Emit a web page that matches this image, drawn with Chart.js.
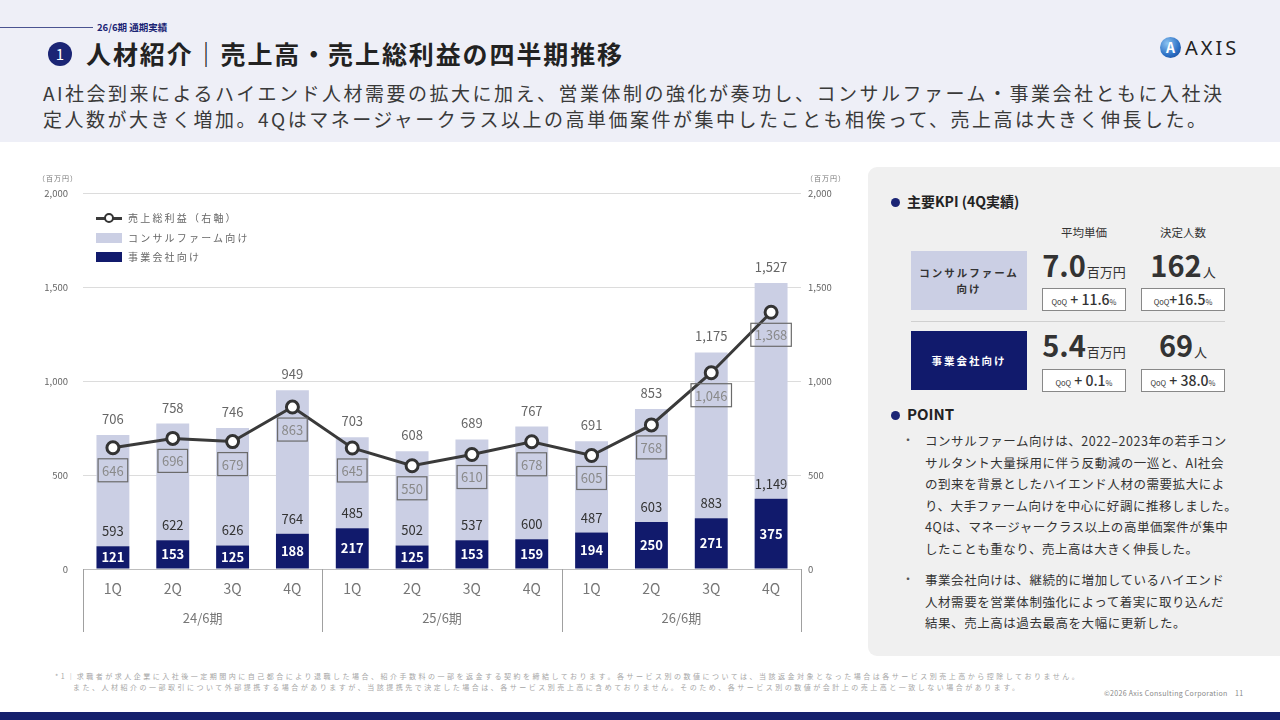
<!DOCTYPE html>
<html lang="ja">
<head>
<meta charset="utf-8">
<script src="https://cdn.jsdelivr.net/npm/chart.js@4.4.1/dist/chart.umd.min.js"></script>
<style>
  * { box-sizing: border-box; }
  body { margin:0; width:1280px; height:720px; overflow:hidden; background:#fff;
         font-family:'Noto Sans CJK JP','Noto Sans',sans-serif; color:#333; position:relative; }
  .abs { position:absolute; white-space:nowrap; }
  #head { left:0; top:0; width:1280px; height:142px; background:#eeeff7; }
  #tagline { left:0; top:27px; width:93px; height:1px; background:#4a5390; }
  #tag { left:97px; top:20px; font-size:9.5px; font-weight:700; color:#1b2575; }
  #num { left:48px; top:42px; width:24px; height:24px; border-radius:50%; background:#1b2575;
         color:#fff; font-size:15px; line-height:24px; text-align:center; }
  #title { left:86px; top:35px; font-size:25px; font-weight:700; color:#222; letter-spacing:1.9px; }
  #sub { left:43px; top:80px; font-size:19px; line-height:26px; color:#3a3a3a; letter-spacing:2.5px; }
  #logo { left:1160px; top:37px; height:22px; }
  #logo .ic { position:absolute; left:0; top:0; width:21px; height:21px; border-radius:50%;
              background:radial-gradient(circle at 35% 30%, #8cc4f2, #2b6fc4 60%, #173f8a);
              color:#fff; font-size:14px; font-weight:700; line-height:21px; text-align:center; }
  #logo .tx { position:absolute; left:25px; top:-3px; font-size:20px; letter-spacing:3px; color:#222; font-family:'Noto Sans',sans-serif; }
  #chartbox { left:30px; top:173px; width:830px; height:467px; }
  .unit { font-size:7px; color:#777; letter-spacing:1px; top:173px; }
  #legend { left:96px; top:210px; font-size:10px; color:#666; letter-spacing:2.2px; }
  #legend div { height:19.5px; line-height:16px; position:relative; padding-left:32px; }
  #legend .ln { position:absolute; left:0; top:7px; width:26px; height:3px; background:#3a3a3a; }
  #legend .dot { position:absolute; left:8px; top:3px; width:10px; height:10px; border-radius:50%;
                 border:2.5px solid #333; background:#fff; }
  #legend .sq { position:absolute; left:0; top:3px; width:26px; height:10px; }
  #panel { left:868px; top:167px; width:420px; height:489px; background:#f0f0f0; border-radius:9px; }
  .h { font-size:14px; font-weight:700; color:#222; }
  .bul { width:9px; height:9px; border-radius:50%; background:#1b2575; }
  .col { font-size:11.5px; color:#333; text-align:center; width:100px; }
  .seg { display:flex; align-items:center; justify-content:center; text-align:center;
         font-size:10.5px; font-weight:700; letter-spacing:2px; line-height:16px; }
  .big { width:100px; text-align:center; color:#333; font-weight:700; font-size:29px; line-height:32px; }
  .big small { font-size:13px; font-weight:400; margin-left:1px; }
  .qoq { width:84px; height:23px; border:1px solid #888; background:#fff; text-align:center;
         font-size:14px; line-height:21px; color:#333; font-weight:500; }
  .qoq i { font-style:normal; font-size:7.5px; font-weight:400; }
  .pt { font-size:12.5px; line-height:21.6px; color:#333; letter-spacing:0.55px; }
  .dotc { font-size:12px; color:#555; }
  .note { font-size:7px; color:#a6a6a6; letter-spacing:2.5px; }
  #copy { left:1104px; top:688px; font-size:7px; color:#888; letter-spacing:0.3px; }
  #band { left:0; top:712px; width:1280px; height:8px; background:#15206c; }
</style>
</head>
<body>
<div class="abs" id="head"></div>
<div class="abs" id="tagline"></div>
<div class="abs" id="tag">26/6期 通期実績</div>
<div class="abs" id="num">1</div>
<div class="abs" id="title">人材紹介｜売上高・売上総利益の四半期推移</div>
<div class="abs" id="sub">AI社会到来によるハイエンド人材需要の拡大に加え、営業体制の強化が奏功し、コンサルファーム・事業会社ともに入社決<br>定人数が大きく増加。4Qはマネージャークラス以上の高単価案件が集中したことも相俟って、売上高は大きく伸長した。</div>
<div class="abs" id="logo"><div class="ic">A</div><div class="tx">AXIS</div></div>

<div class="abs" id="chartbox"><canvas id="chart"></canvas></div>
<div class="abs unit" style="left:38px">（百万円）</div>
<div class="abs unit" style="left:806px">（百万円）</div>
<div class="abs" id="legend">
  <div><span class="ln"></span><span class="dot"></span>売上総利益（右軸）</div>
  <div><span class="sq" style="background:#cbcfe4"></span>コンサルファーム向け</div>
  <div><span class="sq" style="background:#111a6c"></span>事業会社向け</div>
</div>

<div class="abs" id="panel"></div>
<div class="abs bul" style="left:891px;top:198px"></div>
<div class="abs h" style="left:907px;top:191px">主要KPI (4Q実績)</div>
<div class="abs col" style="left:1034px;top:224px">平均単価</div>
<div class="abs col" style="left:1133px;top:224px">決定人数</div>

<div class="abs seg" style="left:911px;top:251px;width:116px;height:59px;background:#cbcfe4;color:#333">コンサルファーム<br>向け</div>
<div class="abs big" style="left:1034px;top:248px">7.0<small>百万円</small></div>
<div class="abs big" style="left:1133px;top:248px">162<small>人</small></div>
<div class="abs qoq" style="left:1042px;top:288px"><i>QoQ</i> + 11.6<i>%</i></div>
<div class="abs qoq" style="left:1141px;top:288px"><i>QoQ</i>+16.5<i>%</i></div>
<div class="abs" style="left:911px;top:321px;width:314px;height:1px;background:#d0d0d0"></div>
<div class="abs seg" style="left:911px;top:331px;width:116px;height:59px;background:#111a6c;color:#fff">事業会社向け</div>
<div class="abs big" style="left:1034px;top:328px">5.4<small>百万円</small></div>
<div class="abs big" style="left:1133px;top:328px">69<small>人</small></div>
<div class="abs qoq" style="left:1042px;top:369px"><i>QoQ</i> + 0.1<i>%</i></div>
<div class="abs qoq" style="left:1141px;top:369px"><i>QoQ</i> + 38.0<i>%</i></div>

<div class="abs bul" style="left:891px;top:411px"></div>
<div class="abs h" style="left:907px;top:403px;font-size:15px">POINT</div>
<div class="abs dotc" style="left:902px;top:431px">・</div>
<div class="abs pt" style="left:925px;top:430px">コンサルファーム向けは、2022–2023年の若手コン<br>サルタント大量採用に伴う反動減の一巡と、AI社会<br>の到来を背景としたハイエンド人材の需要拡大によ<br>り、大手ファーム向けを中心に好調に推移しました。<br>4Qは、マネージャークラス以上の高単価案件が集中<br>したことも重なり、売上高は大きく伸長した。</div>
<div class="abs dotc" style="left:902px;top:570px">・</div>
<div class="abs pt" style="left:925px;top:569px">事業会社向けは、継続的に増加しているハイエンド<br>人材需要を営業体制強化によって着実に取り込んだ<br>結果、売上高は過去最高を大幅に更新した。</div>

<div class="abs note" style="left:55px;top:671px">*1｜求職者が求人企業に入社後一定期間内に自己都合により退職した場合、紹介手数料の一部を返金する契約を締結しております。各サービス別の数値については、当該返金対象となった場合は各サービス別売上高から控除しておりません。</div>
<div class="abs note" style="left:73px;top:682px">また、人材紹介の一部取引について外部提携する場合がありますが、当該提携先で決定した場合は、各サービス別売上高に含めておりません。そのため、各サービス別の数値が会計上の売上高と一致しない場合があります。</div>
<div class="abs" id="copy">©2026 Axis Consulting Corporation&nbsp;&nbsp;&nbsp;&nbsp;11</div>
<div class="abs" id="band"></div>

<script>
// --- data (百万円) ---
const quarters = ['1Q', '2Q', '3Q', '4Q', '1Q', '2Q', '3Q', '4Q', '1Q', '2Q', '3Q', '4Q'];
const periods = ['24/6期', '25/6期', '26/6期'];
const businessSales = [121, 153, 125, 188, 217, 125, 153, 159, 194, 250, 271, 375];
const consultSales = [593, 622, 626, 764, 485, 502, 537, 600, 487, 603, 883, 1149];
const totalSales = [706, 758, 746, 949, 703, 608, 689, 767, 691, 853, 1175, 1527];
const grossProfit = [646, 696, 679, 863, 645, 550, 610, 678, 605, 768, 1046, 1368];
const yTicks = [0, 500, 1000, 1500, 2000];

const FONT = "'Noto Sans CJK JP', 'Noto Sans', sans-serif";
const NAVY = '#111a6c';
const LAV = '#cbcfe4';
const fmt = v => Number(v).toLocaleString('en-US');

Chart.defaults.font.family = FONT;

// value labels + period dividers
const labelPlugin = {
  id: 'valueLabels',
  afterDatasetsDraw(chart) {
    const ctx = chart.ctx;
    const biz = chart.getDatasetMeta(0).data;
    const con = chart.getDatasetMeta(1).data;
    const pts = chart.getDatasetMeta(2).data;
    ctx.save();
    ctx.textAlign = 'center';
    ctx.textBaseline = 'middle';
    biz.forEach((b, i) => {
      ctx.font = `bold 13px ${FONT}`;
      ctx.fillStyle = '#fff';
      ctx.fillText(fmt(businessSales[i]), b.x, (b.y + b.base) / 2);
      ctx.font = `13px ${FONT}`;
      ctx.fillStyle = '#333';
      ctx.fillText(fmt(consultSales[i]), b.x, b.y - 15);
      ctx.fillStyle = '#666';
      ctx.fillText(fmt(totalSales[i]), b.x, con[i].y - 16);
      const p = pts[i];
      const t = fmt(grossProfit[i]);
      const w = ctx.measureText(t).width + 8;
      ctx.strokeStyle = '#6b6b6b';
      ctx.lineWidth = 1.2;
      ctx.strokeRect(p.x - w / 2, p.y + 11, w, 23);
      ctx.fillStyle = '#8a8a8a';
      ctx.fillText(t, p.x, p.y + 23);
    });
    ctx.restore();
  },
  afterDraw(chart) {
    const { ctx, chartArea } = chart;
    const xs = chart.scales.x;
    ctx.save();
    ctx.strokeStyle = '#a0a0a0';
    ctx.lineWidth = 1;
    [0, 4, 8, 12].forEach(k => {
      const px = Math.round(xs.getPixelForValue(k - 0.5)) + 0.5;
      ctx.beginPath();
      ctx.moveTo(px, chartArea.bottom);
      ctx.lineTo(px, chartArea.bottom + 63);
      ctx.stroke();
    });
    ctx.restore();
  }
};

const setTicks = s => { s.ticks = yTicks.map(v => ({ value: v })); };

new Chart(document.getElementById('chart'), {
  data: {
    labels: quarters,
    datasets: [
      { type:'bar', label:'事業会社向け', data:businessSales, backgroundColor:NAVY, xAxisID:'x', yAxisID:'y', order:1 },
      { type:'bar', label:'コンサルファーム向け', data:consultSales, backgroundColor:LAV, xAxisID:'x', yAxisID:'y', order:1 },
      { type:'line', label:'売上総利益（右軸）', data:grossProfit, xAxisID:'x', yAxisID:'y2', order:0,
        borderColor:'#3a3a3a', borderWidth:3, tension:0, pointRadius:6, pointHoverRadius:6,
        pointBackgroundColor:'#fff', pointBorderColor:'#333', pointBorderWidth:3 },
    ],
  },
  options: {
    responsive:true, maintainAspectRatio:false, animation:false,
    layout:{ padding:{ top:6 } },
    plugins:{ legend:{ display:false }, tooltip:{ enabled:false } },
    datasets:{ bar:{ categoryPercentage:1, barPercentage:0.55 } },
    scales: {
      x:  { axis:'x', position:'bottom', stacked:true, offset:true, weight:0,
            grid:{ display:false }, border:{ display:true, color:'#bdbdbd' },
            ticks:{ color:'#777', font:{ size:14 }, padding:3, maxRotation:0, autoSkip:false },
            afterFit: s => { s.height = 32; } },
      x2: { axis:'x', type:'category', labels:periods, position:'bottom', offset:true, weight:1,
            grid:{ display:false }, border:{ display:false },
            ticks:{ color:'#777', font:{ size:13 }, padding:1, maxRotation:0 },
            afterFit: s => { s.height = 39; } },
      y:  { axis:'y', position:'left', stacked:true, min:0, max:2000,
            grid:{ color:'#dcdcdc', drawTicks:false }, border:{ display:false },
            ticks:{ color:'#666', font:{ size:9.5 }, padding:15, callback: v => fmt(v) },
            afterBuildTicks:setTicks, afterFit: s => { s.width = 53; } },
      y2: { axis:'y', position:'right', min:0, max:2000,
            grid:{ display:false, drawTicks:false }, border:{ display:false },
            ticks:{ color:'#666', font:{ size:9.5 }, padding:7, callback: v => fmt(v) },
            afterBuildTicks:setTicks, afterFit: s => { s.width = 59; } },
    },
  },
  plugins:[labelPlugin],
});
</script>
</body>
</html>
